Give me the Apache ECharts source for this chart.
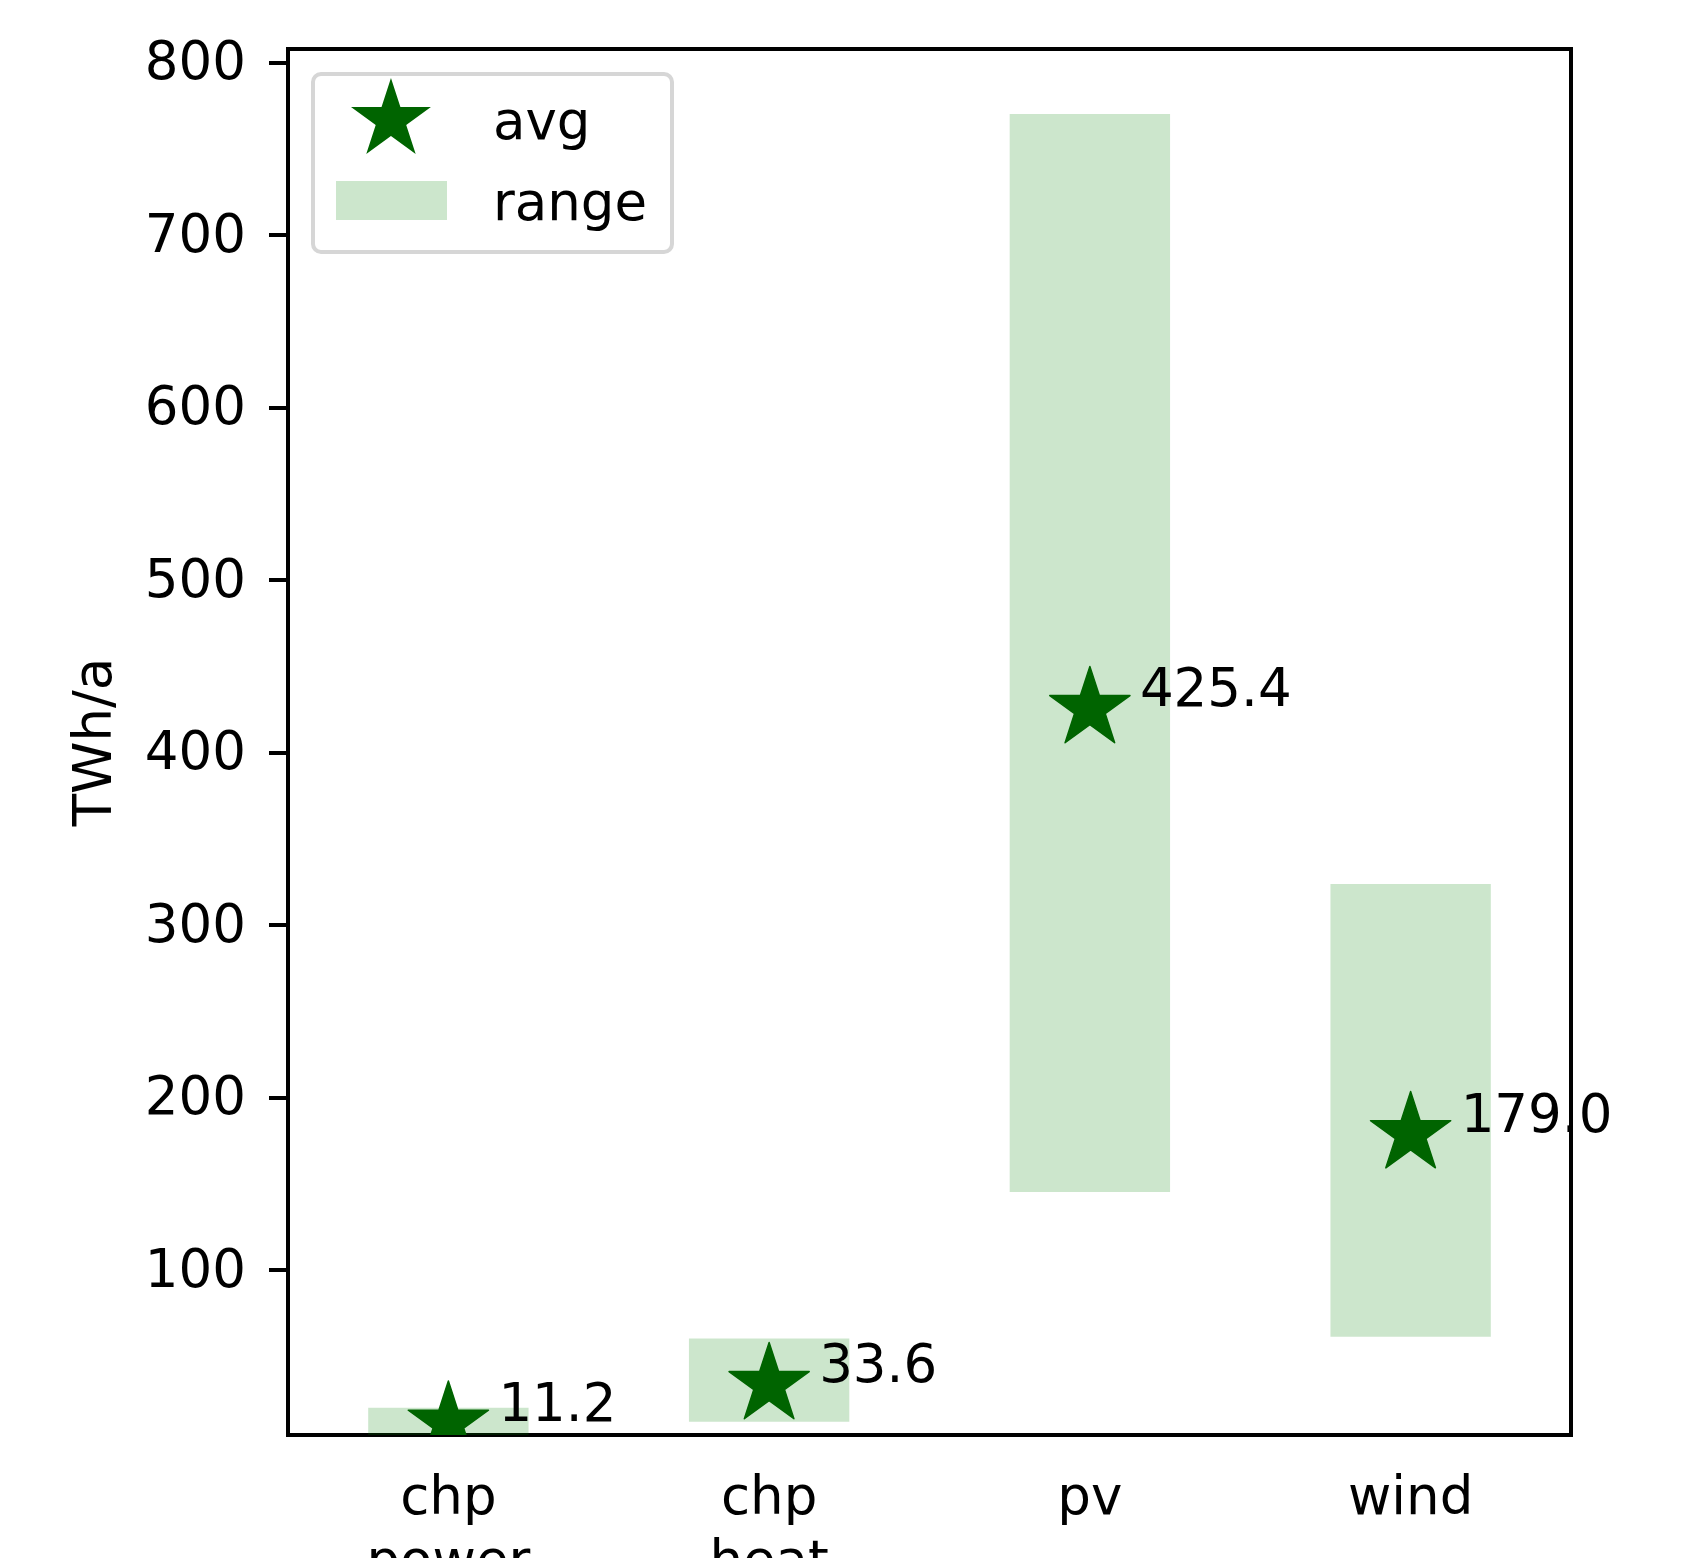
<!DOCTYPE html>
<html>
<head>
    <meta charset="utf-8">
    <title>ECharts</title>
    <script src="https://cdn.jsdelivr.net/npm/echarts@6/dist/echarts.min.js"></script>
    <style>
        html, body { margin: 0; padding: 0; background: #fff; }
    </style>
</head>
<body>

    <div id="main" style="width: 1685px;height:1558px;"></div>

    <script type="text/javascript">

        // data
        var categories = ['chp\npower', 'chp\nheat', 'pv', 'wind'];
        var avgValues = [11.2, 33.6, 425.4, 179.0];
        var rangeMin = [4.4, 12.1, 145.2, 61.3];
        var rangeMax = [20.2, 60.4, 770.0, 323.7];
        var yTicks = [100, 200, 300, 400, 500, 600, 700, 800];

        var FONT = 'DejaVu Sans';
        var STAR = 'M50,0L61.23,34.55L97.55,34.55L68.16,55.9L79.39,90.45L50,69.1L20.61,90.45L31.84,55.9L2.45,34.55L38.77,34.55Z';
        var STAR_R = 42.2;
        // legend icons: the trailing move-to only stretches the icon box so the text sits lower
        var STAR_ICON = 'path://' + STAR + 'M50,111.85';
        var RECT_ICON = 'path://M0,0L111,0L111,39L0,39ZM0,49.8';

        var rangeSpan = rangeMax.map(function (v, i) { return +(v - rangeMin[i]).toFixed(2); });
        var avgData = avgValues.map(function (v, i) { return [i, v]; });

        var myChart = echarts.init(document.getElementById('main'));

        var option = {
            animation: false,
            grid: {
                left: 288,
                right: 114,
                top: 49,
                bottom: 123,
                containLabel: false,
                outerBoundsMode: 'none',
                show: true,
                borderColor: '#000',
                borderWidth: 4,
                backgroundColor: 'transparent'
            },
            legend: [
                {
                    data: ['avg'],
                    left: 351,
                    top: 78,
                    padding: 0,
                    itemWidth: 80,
                    itemHeight: 94,
                    icon: STAR_ICON,
                    textStyle: { fontFamily: FONT, fontSize: 53, color: '#000', padding: [0, 0, 0, 57] }
                },
                {
                    data: ['range'],
                    left: 336,
                    top: 179.5,
                    padding: 0,
                    itemWidth: 111,
                    itemHeight: 50,
                    icon: RECT_ICON,
                    textStyle: { fontFamily: FONT, fontSize: 53, color: '#000', padding: [0, 0, 0, 41] }
                }
            ],
            graphic: [
                {
                    type: 'rect',
                    z: 1,
                    shape: { x: 313, y: 74, width: 359, height: 178, r: 8 },
                    style: { fill: 'rgba(255,255,255,0.8)', stroke: '#d6d6d6', lineWidth: 4 }
                }
            ],
            xAxis: {
                type: 'category',
                data: categories,
                boundaryGap: true,
                axisLine: { lineStyle: { color: '#000', width: 4 } },
                axisTick: { alignWithLabel: true, length: 19, lineStyle: { color: '#000', width: 4 } },
                axisLabel: {
                    fontFamily: FONT,
                    fontSize: 53,
                    lineHeight: 64,
                    color: '#000',
                    margin: 33,
                    interval: 0
                },
                splitLine: { show: false }
            },
            yAxis: {
                type: 'value',
                min: 4.4,
                max: 807.7,
                name: 'TWh/a',
                nameLocation: 'middle',
                nameRotate: 90,
                nameGap: 164,
                nameTextStyle: { fontFamily: FONT, fontSize: 53, color: '#000' },
                axisLine: { show: true, lineStyle: { color: '#000', width: 4 } },
                axisTick: { show: true, length: 19, customValues: yTicks, lineStyle: { color: '#000', width: 4 } },
                axisLabel: {
                    customValues: yTicks,
                    fontFamily: FONT,
                    fontSize: 53,
                    color: '#000',
                    margin: 42,
                    verticalAlign: 'top',
                    lineHeight: 6
                },
                splitLine: { show: false }
            },
            series: [
                {
                    name: 'base',
                    type: 'bar',
                    stack: 'r',
                    barWidth: '50%',
                    itemStyle: { color: 'rgba(0,0,0,0)' },
                    data: rangeMin
                },
                {
                    name: 'range',
                    type: 'bar',
                    stack: 'r',
                    barWidth: '50%',
                    itemStyle: { color: 'rgba(0,128,0,0.2)' },
                    data: rangeSpan
                },
                {
                    name: 'avg',
                    type: 'custom',
                    z: 5,
                    itemStyle: { color: '#006400' },
                    data: avgData,
                    renderItem: function (params, api) {
                        var p = api.coord([api.value(0), api.value(1)]);
                        var cs = params.coordSys;
                        return {
                            type: 'group',
                            children: [
                                {
                                    type: 'path',
                                    shape: {
                                        pathData: STAR,
                                        x: p[0] - 40.1,
                                        y: p[1] - STAR_R,
                                        width: 80.2,
                                        height: 76.3
                                    },
                                    style: { fill: '#006400', stroke: '#006400', lineWidth: 1.5, lineJoin: 'round' },
                                    clipPath: {
                                        type: 'rect',
                                        shape: { x: cs.x, y: cs.y, width: cs.width, height: cs.height }
                                    }
                                },
                                {
                                    type: 'text',
                                    x: p[0] + 50,
                                    y: p[1] - 16,
                                    style: {
                                        text: api.value(1).toFixed(1),
                                        fontFamily: FONT,
                                        fontSize: 53,
                                        fill: '#000',
                                        align: 'left',
                                        verticalAlign: 'middle'
                                    }
                                }
                            ]
                        };
                    }
                }
            ]
        };

        myChart.setOption(option);
    </script>
</body>
</html>
